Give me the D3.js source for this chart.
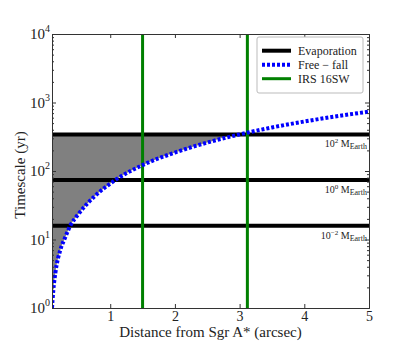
<!DOCTYPE html>
<html>
<head>
<meta charset="utf-8">
<script src="https://cdn.jsdelivr.net/npm/d3@7"></script>
<style>
  body { margin: 0; background: #fff; }
  text { font-family: "Liberation Serif", "DejaVu Serif", serif; fill: #222; }
</style>
</head>
<body>
<script>
let width = 411;
let height = 343;

// free-fall curve (arcsec, yr)
let distance = [0.1, 0.12, 0.153, 0.23, 0.3, 0.384, 0.5, 0.75, 1.08, 1.5, 2.0, 2.5, 3.0, 3.5, 4.0, 4.5, 5.0];
let freeFall = [1.0, 1.8, 3.3, 7.1, 10.5, 16, 23, 42, 74, 122, 186, 260, 342, 432, 528, 630, 735];

// evaporation timescales for the three masses
let evapMass = ["2", "0", "\u22122"];
let evapTime = [342, 74, 15.9];

// IRS 16SW positions
let irsX = [1.5, 3.12];

let xTicks = [1, 2, 3, 4, 5];
let yTicks = [1, 10, 100, 1000, 10000];

let margin = { left: 52, right: 42, top: 34, bottom: 35 };

let svg = d3
  .select("body")
  .append("svg")
  .attr("width", width)
  .attr("height", height);

let x = d3.scaleLinear().domain([0.1, 5]).range([margin.left, width - margin.right]);
let y = d3.scaleLog().domain([1, 10000]).range([height - margin.bottom, margin.top]);

svg
  .append("clipPath")
  .attr("id", "plotclip")
  .append("rect")
  .attr("x", margin.left)
  .attr("y", margin.top)
  .attr("width", width - margin.left - margin.right)
  .attr("height", height - margin.top - margin.bottom);

let plot = svg.append("g").attr("clip-path", "url(#plotclip)");

let pts = distance.map((d, i) => ({ r: d, t: freeFall[i] }));

// grey region between the top evaporation line and the free-fall curve
let area = d3
  .area()
  .x((d) => x(d.r))
  .y0(y(evapTime[0]))
  .y1((d) => y(Math.min(d.t, evapTime[0])))
  .curve(d3.curveMonotoneX);

plot.append("path").datum(pts).attr("fill", "#808080").attr("d", area);

// evaporation lines
plot
  .selectAll(".evap")
  .data(evapTime)
  .enter()
  .append("line")
  .attr("x1", margin.left)
  .attr("x2", width - margin.right)
  .attr("y1", (d) => y(d))
  .attr("y2", (d) => y(d))
  .attr("stroke", "#000")
  .attr("stroke-width", 4);

// IRS 16SW
plot
  .selectAll(".irs")
  .data(irsX)
  .enter()
  .append("line")
  .attr("x1", (d) => x(d))
  .attr("x2", (d) => x(d))
  .attr("y1", margin.top)
  .attr("y2", height - margin.bottom)
  .attr("stroke", "#008000")
  .attr("stroke-width", 3);

// free-fall
let line = d3
  .line()
  .x((d) => x(d.r))
  .y((d) => y(d.t))
  .curve(d3.curveMonotoneX);

plot
  .append("path")
  .datum(pts)
  .attr("fill", "none")
  .attr("stroke", "#0000ff")
  .attr("stroke-width", 4)
  .attr("stroke-dasharray", "3,2")
  .attr("d", line);

// mass labels
let massLabel = svg
  .selectAll(".mass")
  .data(evapTime)
  .enter()
  .append("text")
  .attr("x", width - margin.right - 2)
  .attr("y", (d) => y(d) + 13)
  .attr("text-anchor", "end")
  .style("font-size", "10px");
massLabel.append("tspan").text("10");
massLabel
  .append("tspan")
  .attr("dy", -4)
  .style("font-size", "7px")
  .text((d, i) => evapMass[i]);
massLabel.append("tspan").attr("dy", 4).text(" M");
massLabel
  .append("tspan")
  .attr("dy", 2)
  .style("font-size", "8px")
  .text("Earth");

// axes with inward ticks on all four sides
let minorY = [];
for (let e = 0; e < 4; e++) {
  for (let m = 2; m < 10; m++) minorY.push(m * Math.pow(10, e));
}

let axisColor = "#333";

let xAxisBottom = svg
  .append("g")
  .attr("transform", `translate(0,${height - margin.bottom})`)
  .call(d3.axisBottom(x).tickValues(xTicks).tickSize(-4).tickPadding(3).tickFormat(d3.format("d")));
svg
  .append("g")
  .attr("transform", `translate(0,${margin.top})`)
  .call(d3.axisTop(x).tickValues(xTicks).tickSize(-4).tickFormat(""));
svg
  .append("g")
  .attr("transform", `translate(${margin.left},0)`)
  .call(d3.axisLeft(y).tickValues(yTicks).tickSize(-4).tickFormat(""));
svg
  .append("g")
  .attr("transform", `translate(${width - margin.right},0)`)
  .call(d3.axisRight(y).tickValues(yTicks).tickSize(-4).tickFormat(""));

svg
  .append("g")
  .attr("transform", `translate(${margin.left},0)`)
  .call(d3.axisLeft(y).tickValues(minorY).tickSize(-2).tickFormat(""))
  .call((g) => g.select(".domain").remove());
svg
  .append("g")
  .attr("transform", `translate(${width - margin.right},0)`)
  .call(d3.axisRight(y).tickValues(minorY).tickSize(-2).tickFormat(""))
  .call((g) => g.select(".domain").remove());

svg.selectAll(".domain").attr("stroke", axisColor);
svg.selectAll(".tick line").attr("stroke", axisColor);
xAxisBottom.attr("font-family", null).attr("font-size", null);
xAxisBottom
  .selectAll(".tick text")
  .style("font-size", "14px")
  .style("font-family", "Liberation Serif")
  .attr("fill", "#222");

// y tick labels as 10^n
let ylab = svg
  .selectAll(".ylab")
  .data(yTicks)
  .enter()
  .append("text")
  .attr("x", margin.left - 2)
  .attr("y", (d) => y(d) + 5)
  .attr("text-anchor", "end")
  .style("font-size", "15px");
ylab.append("tspan").text("10");
ylab
  .append("tspan")
  .attr("dy", -7)
  .style("font-size", "10px")
  .text((d) => Math.round(Math.log10(d)));

// axis titles
svg
  .append("text")
  .attr("x", (margin.left + width - margin.right) / 2)
  .attr("y", 337)
  .attr("text-anchor", "middle")
  .style("font-size", "15px")
  .text("Distance from Sgr A* (arcsec)");

svg
  .append("text")
  .attr("transform", `translate(25,${(margin.top + height - margin.bottom) / 2 + 4}) rotate(-90)`)
  .attr("text-anchor", "middle")
  .style("font-size", "15px")
  .text("Timescale (yr)");

// legend
let lg = svg.append("g");
lg.append("rect")
  .attr("x", 257)
  .attr("y", 37)
  .attr("width", 106)
  .attr("height", 56)
  .attr("rx", 2)
  .attr("fill", "#fff")
  .attr("stroke", "#bbb")
  .attr("stroke-width", 1);

let legendItems = [
  { name: "Evaporation", color: "#000", dash: null, w: 4 },
  { name: "Free \u2212 fall", color: "#0000ff", dash: "3,2", w: 4 },
  { name: "IRS 16SW", color: "#008000", dash: null, w: 3 },
];

legendItems.forEach((it, i) => {
  let yy = 50.7 + i * 14;
  lg.append("line")
    .attr("x1", 262)
    .attr("x2", 291)
    .attr("y1", yy)
    .attr("y2", yy)
    .attr("stroke", it.color)
    .attr("stroke-width", it.w)
    .attr("stroke-dasharray", it.dash);
  lg.append("text")
    .attr("x", 298)
    .attr("y", yy + 4)
    .style("font-size", "12px")
    .text(it.name);
});
</script>
</body>
</html>
